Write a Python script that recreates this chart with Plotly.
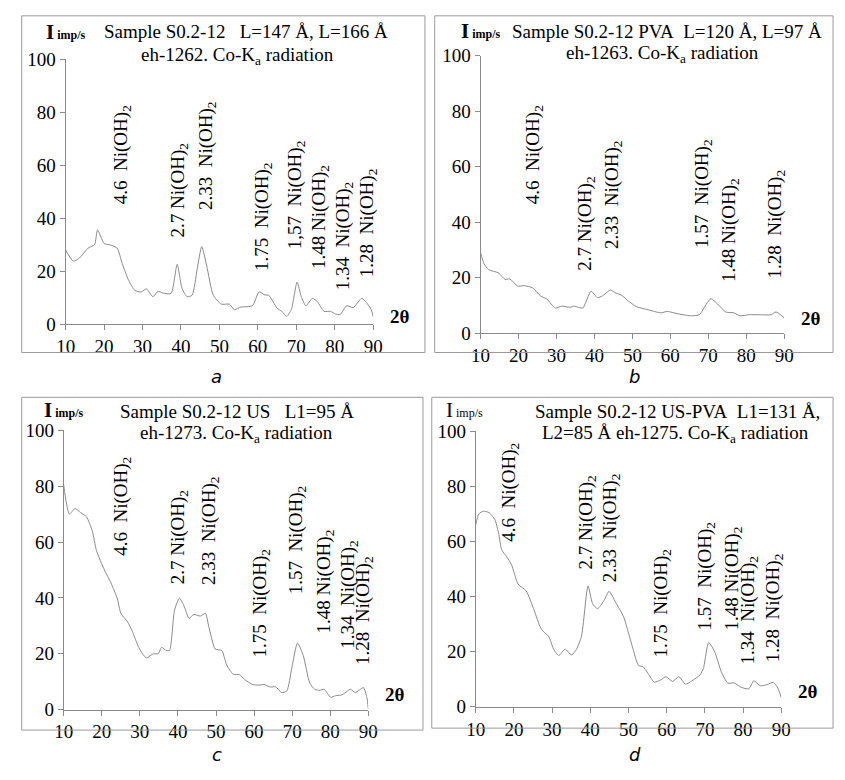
import plotly.graph_objects as go

# ---------------- data ----------------
a_x = [10, 12, 13.6, 15.8, 17.5, 18.3, 20, 21.7, 23.4, 24.7, 26.4, 28, 29.7, 31, 32.7, 34, 35.3, 37.4, 39,
       40.3, 41.6, 42.9, 44.2, 45.4, 46.7, 48.4, 50.5, 52.6, 53.9, 55.6, 58.6, 60.3, 61.9, 62.8, 65, 66.2,
       67.5, 68.7, 70.2, 71.3, 72.5, 74.2, 75.5, 77.2, 78.9, 80.2, 81.4, 83.1, 84.8, 87, 88.2, 89.5, 90.1]
a_y = [28, 23.8, 25, 28.7, 30, 35.6, 30.5, 29.9, 28.7, 23, 16.5, 12.8, 12.2, 13.4, 10.4, 12.4, 11.8, 11.6, 22.6,
       13.4, 10.4, 11, 20.7, 29.3, 22, 11, 7.6, 7.6, 5.5, 6.5, 7, 12.2, 11, 11, 6.1, 4.9,
       3, 5.5, 15.9, 10.4, 7, 9.8, 8.5, 4.9, 4.9, 3.9, 3.7, 7, 6.3, 9.8, 8.3, 5.5, 2.4]

b_x = [10, 10.9, 12.1, 14.7, 16.4, 17.7, 19.8, 21.5, 23.7, 25.8, 27.5, 29.7, 31.4, 33.5, 34.8, 36.9, 39.1,
       40.8, 42.1, 44.2, 45.5, 47.2, 48.9, 51.1, 54.1, 57.5, 59.2, 61.8, 64.3, 65.6, 67.7, 69.5, 70.7,
       72.4, 74.6, 76.7, 78.4, 80.6, 84, 86.6, 87.8, 90]
b_y = [29, 25, 22.9, 21.7, 19.4, 19.5, 16.9, 17.1, 16.3, 13.4, 12.2, 9, 9.7, 9.3, 9.7, 9, 15.1,
       12.8, 13.4, 15.5, 14.5, 13.6, 11.6, 9.5, 8.4, 7.3, 7.8, 7, 6.4, 6.2, 6.7, 10.5, 12.4,
       10.5, 7.6, 7.3, 6.2, 6.6, 6.6, 6.6, 7.6, 5.5]

c_x = [10, 10.7, 11.5, 13, 14.5, 16, 17.5, 18.6, 20.7, 22.4, 24.1, 25, 26.7, 28, 29.7, 31, 31.8, 33.5, 34.8,
       35.7, 36.9, 37.8, 39.1, 40.4, 41.7, 42.9, 44.2, 45.9, 47.2, 48.1, 49.8, 51.5, 52.8, 54.5, 56.2,
       57.5, 59.6, 61.3, 62.6, 64.3, 65.6, 67.3, 68.6, 69.9, 71.4, 72.9, 74.6, 75.9, 77.2, 78.4, 80.1,
       81.4, 83.1, 85.3, 86.6, 88.7, 89.6, 90]
c_y = [80.5, 74, 70, 72, 70.5, 69, 64, 57, 50, 45.4, 39.7, 34.5, 31.6, 28.1, 22.3, 19.4, 18.5, 20, 20,
       22.3, 21.2, 21.2, 35.6, 39.9, 36.8, 32.7, 34.1, 33.5, 34.5, 29.8, 21.7, 21.2, 16, 12.7, 12.5,
       10.8, 9, 8.8, 9, 8.1, 8.2, 6.1, 6.7, 14.8, 23.8, 19.4, 9.6, 7.3, 6.9, 7.3, 4.4,
       5, 5.3, 7.3, 6.1, 7.9, 4.4, 0.3]

d_x = [10, 10.8, 12, 13.5, 15, 16, 16.8, 18.1, 19.4, 21.1, 23.2, 25.3, 27, 28.3, 29.1, 30.4, 31.7, 33.4,
       35.1, 36.4, 37.7, 39.4, 40.6, 41.9, 43.6, 44.9, 46.6, 48.7, 50, 51.3, 52.6, 53.8, 55.1, 56.8,
       58.5, 59.8, 61.5, 63.2, 64.9, 66.6, 68.7, 69.6, 71, 72.6, 74.3, 76, 77.7, 79.4, 81.5, 82.8,
       84.5, 86.2, 87.9, 89.1, 90]
d_y = [66, 70, 71, 70.5, 68, 63, 57, 54.5, 51.5, 44.5, 42.1, 35, 28.6, 26.5, 25.6, 20.9, 18.6, 20.9,
       18.8, 20.9, 25.6, 43.9, 37.4, 35.6, 38.6, 41.9, 38, 32.7, 26.8, 20.4, 15, 14.5, 12.1, 8.9,
       9.8, 10.9, 9.2, 10.9, 8.2, 9.4, 11.5, 13.9, 23.3, 19.8, 12.7, 8.6, 8.6, 7.1, 6.5, 9.4,
       7.6, 8, 8.8, 6.8, 3.3]

# peak labels: text, x (2theta), y (bottom of rotated label)
a_lab = ["4.6  Ni(OH)<sub>2</sub>", "2.7 Ni(OH)<sub>2</sub>", "2.33  Ni(OH)<sub>2</sub>", "1.75  Ni(OH)<sub>2</sub>",
         "1,57  Ni(OH)<sub>2</sub>", "1.48 Ni(OH)<sub>2</sub>", "1.34  Ni(OH)<sub>2</sub>", "1.28  Ni(OH)<sub>2</sub>"]
a_lx = [24.7, 39.4, 46.8, 61.5, 70, 76.2, 82.3, 88.7]
a_ly = [44.4, 31.9, 42.2, 19.4, 27.5, 20.2, 12.1, 16.9]

b_lab = ["4.6  Ni(OH)<sub>2</sub>", "2.7 Ni(OH)<sub>2</sub>", "2.33  Ni(OH)<sub>2</sub>", "1.57  Ni(OH)<sub>2</sub>",
         "1.48 Ni(OH)<sub>2</sub>", "1.28  Ni(OH)<sub>2</sub>"]
b_lx = [24.1, 37.8, 44.7, 68.6, 75.6, 87.9]
b_ly = [45.6, 21.8, 29.5, 29.8, 17.5, 18.9]

c_lab = ["4.6  Ni(OH)<sub>2</sub>", "2.7 Ni(OH)<sub>2</sub>", "2.33  Ni(OH)<sub>2</sub>", "1.75  Ni(OH)<sub>2</sub>",
         "1.57  Ni(OH)<sub>2</sub>", "1.48 Ni(OH)<sub>2</sub>", "1.34  Ni(OH)<sub>2</sub>", "1.28  Ni(OH)<sub>2</sub>"]
c_lx = [25.4, 40.3, 48.5, 61.8, 71.5, 78.5, 84.9, 89]
c_ly = [54.3, 44.2, 43.8, 18.1, 40.7, 26.4, 21.2, 15.3]

d_lab = ["4.6  Ni(OH)<sub>2</sub>", "2.7 Ni(OH)<sub>2</sub>", "2.33  Ni(OH)<sub>2</sub>", "1.75  Ni(OH)<sub>2</sub>",
         "1.57  Ni(OH)<sub>2</sub>", "1.48 Ni(OH)<sub>2</sub>", "1.34  Ni(OH)<sub>2</sub>", "1.28  Ni(OH)<sub>2</sub>"]
d_lx = [19, 38.9, 45.3, 58.8, 70.4, 77.3, 81.6, 88]
d_ly = [59, 49.1, 44.5, 17, 26.9, 26.9, 14.5, 15.5]

titles1 = ["Sample S0.2-12\u00a0\u00a0 L=147 Å, L=166 Å", "Sample S0.2-12 PVA\u00a0 L=120 Å, L=97 Å",
           "Sample S0.2-12 US\u00a0\u00a0 L1=95 Å", "Sample S0.2-12 US-PVA\u00a0 L1=131 Å,"]
titles2 = ["eh-1262. Co-K<sub>a</sub> radiation", "eh-1263. Co-K<sub>a</sub> radiation",
           "eh-1273. Co-K<sub>a</sub> radiation", "L2=85 Å eh-1275. Co-K<sub>a</sub> radiation"]
panel_names = ["a", "b", "c", "d"]
x_ticks = [10, 20, 30, 40, 50, 60, 70, 80, 90]
y_ticks = [0, 20, 40, 60, 80, 100]

# ---------------- layout helpers ----------------
W, H = 845, 780
SERIF = "Liberation Serif"


def px(xp):
    return xp / W


def py(yp):
    return 1 - yp / H


# pixel boxes of the plotting areas: (x_left, x_right, y_zero, y_100)
boxes = [(57, 372, 323, 50.5), (482, 793, 332, 47), (55, 367, 719, 432), (477, 790, 716, 433)]
series = [(a_x, a_y, a_lab, a_lx, a_ly), (b_x, b_y, b_lab, b_lx, b_ly),
          (c_x, c_y, c_lab, c_lx, c_ly), (d_x, d_y, d_lab, d_lx, d_ly)]

fig = go.Figure()
annotations = []
shapes = []

for i, ((xl, xr, y0, y100), (xs, ys, labs, lxs, lys)) in enumerate(zip(boxes, series)):
    n = "" if i == 0 else str(i + 1)
    xa, ya = "x" + n, "y" + n
    fig.add_trace(go.Scatter(x=xs, y=ys, xaxis=xa, yaxis=ya, mode="lines",
                             line=dict(color="#8a8a8a", width=1, shape="spline", smoothing=0.6),
                             hoverinfo="skip", showlegend=False))
    axcommon = dict(showgrid=False, zeroline=False, showline=True, linecolor="#8a8a8a", linewidth=1,
                    ticks="outside", ticklen=5, tickcolor="#8a8a8a",
                    tickfont=dict(family=SERIF, size=19, color="black"))
    fig.layout["xaxis" + n] = dict(domain=[px(xl), px(xr)], range=[10, 90], tickvals=x_ticks,
                                   anchor=ya, fixedrange=True, **axcommon)
    fig.layout["yaxis" + n] = dict(domain=[py(y0), py(y100)], range=[0, 100], tickvals=y_ticks,
                                   anchor=xa, fixedrange=True, **axcommon)
    for t, lx, ly in zip(labs, lxs, lys):
        annotations.append(dict(x=lx, y=ly, xref=xa, yref=ya, text=t, textangle=-90, showarrow=False,
                                xanchor="center", yanchor="bottom",
                                font=dict(family=SERIF, size=19, color="black")))

# titles, axis labels and panel letters (pixel positions)
title_pos = [((242, 22), (233, 47)), ((673, 22), (668, 45)), ((232, 413), (232, 436)), ((684, 413), (682, 436))]
ilabel_pos = [(35, 23), (460, 22), (33, 411), (445, 411)]
theta_pos = [(387, 315), (808, 317), (382, 703), (805, 700)]
letter_pos = [(212, 377), (640, 377), (212, 765), (640, 765)]

for i in range(4):
    (t1x, t1y), (t2x, t2y) = title_pos[i]
    annotations.append(dict(x=px(t1x), y=py(t1y), xref="paper", yref="paper", text=titles1[i],
                            showarrow=False, xanchor="center", yanchor="middle",
                            font=dict(family=SERIF, size=19, color="black")))
    annotations.append(dict(x=px(t2x), y=py(t2y), xref="paper", yref="paper", text=titles2[i],
                            showarrow=False, xanchor="center", yanchor="middle",
                            font=dict(family=SERIF, size=19, color="black")))
    ix, iy = ilabel_pos[i]
    if i < 3:
        itxt = "<b>I</b><span style='font-size:12px'><b> imp/s</b></span>"
    else:
        itxt = "I<span style='font-size:12px'> imp/s</span>"
    annotations.append(dict(x=px(ix), y=py(iy), xref="paper", yref="paper", text=itxt,
                            showarrow=False, xanchor="left", yanchor="middle",
                            font=dict(family=SERIF, size=21, color="black")))
    tx, ty = theta_pos[i]
    annotations.append(dict(x=px(tx), y=py(ty), xref="paper", yref="paper", text="<b>2θ</b>",
                            showarrow=False, xanchor="left", yanchor="middle",
                            font=dict(family=SERIF, size=19, color="black")))
    lx, ly = letter_pos[i]
    annotations.append(dict(x=px(lx), y=py(ly), xref="paper", yref="paper", text="<i>" + panel_names[i] + "</i>",
                            showarrow=False, xanchor="center", yanchor="middle",
                            font=dict(family="DejaVu Sans", size=18, color="black")))

# panel frames
frames = [(12, 6, 425, 352), (435, 6, 843, 352), (12, 398, 423, 740), (432, 398, 843, 738)]
for (x0, y0, x1, y1) in frames:
    shapes.append(dict(type="rect", xref="paper", yref="paper", x0=px(x0), x1=px(x1), y0=py(y1), y1=py(y0),
                       line=dict(color="#9a9a9a", width=1), fillcolor="rgba(0,0,0,0)"))

fig.update_layout(width=W, height=H, margin=dict(l=0, r=0, t=0, b=0), plot_bgcolor="white",
                  paper_bgcolor="white", annotations=annotations, shapes=shapes, showlegend=False)

fig.write_html("out.html", config={"displayModeBar": False},
               post_script="document.body.style.margin='0';document.body.style.overflow='hidden';")
